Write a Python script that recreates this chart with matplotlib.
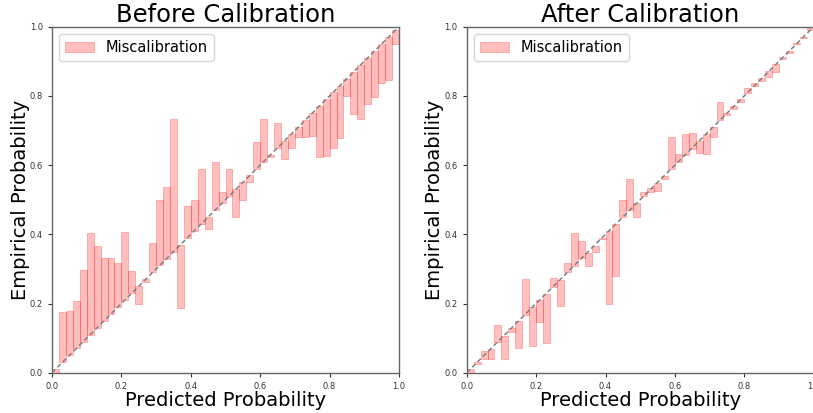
import numpy as np
import matplotlib
matplotlib.use("Agg")
import matplotlib.pyplot as plt

# ---- data -------------------------------------------------------------
bin_left = [round(i * 0.02, 2) for i in range(50)]   # left edges of the 50 bins
bin_width = 0.02

before_conf = [0.01, 0.03, 0.05, 0.07, 0.09, 0.11, 0.13, 0.15, 0.17, 0.19,
               0.21, 0.23, 0.25, 0.27, 0.29, 0.31, 0.33, 0.35, 0.37, 0.39,
               0.41, 0.43, 0.45, 0.47, 0.49, 0.51, 0.53, 0.55, 0.57, 0.59,
               0.61, 0.63, 0.65, 0.67, 0.69, 0.71, 0.73, 0.75, 0.77, 0.79,
               0.81, 0.83, 0.85, 0.87, 0.89, 0.91, 0.93, 0.95, 0.97, 0.99]
before_acc = [0.000, 0.175, 0.178, 0.207, 0.297, 0.403, 0.366, 0.331, 0.331, 0.318,
              0.406, 0.293, 0.199, 0.262, 0.374, 0.499, 0.538, 0.733, 0.186, 0.483,
              0.499, 0.589, 0.414, 0.610, 0.521, 0.589, 0.449, 0.498, 0.552, 0.667,
              0.732, 0.622, 0.722, 0.617, 0.649, 0.680, 0.680, 0.684, 0.624, 0.627,
              0.648, 0.679, 0.800, 0.748, 0.732, 0.778, 0.796, 0.836, 0.846, 0.949]

after_conf = [0.010, 0.032, 0.063, 0.068, 0.090, 0.105, 0.130, 0.149, 0.168, 0.191,
              0.210, 0.227, 0.247, 0.268, 0.290, 0.308, 0.331, 0.347, 0.366, 0.390,
              0.410, 0.430, 0.449, 0.469, 0.490, 0.510, 0.534, 0.549, 0.569, 0.589,
              0.608, 0.629, 0.647, 0.670, 0.690, 0.711, 0.730, 0.750, 0.770, 0.790,
              0.809, 0.829, 0.853, 0.871, 0.891, 0.911, 0.930, 0.949, 0.969, 0.990]
after_acc = [0.000, 0.025, 0.040, 0.039, 0.138, 0.039, 0.117, 0.070, 0.270, 0.078,
             0.147, 0.085, 0.273, 0.193, 0.318, 0.403, 0.381, 0.309, 0.348, 0.385,
             0.199, 0.280, 0.499, 0.559, 0.451, 0.521, 0.523, 0.525, 0.559, 0.682,
             0.631, 0.690, 0.692, 0.636, 0.631, 0.680, 0.783, 0.745, 0.762, 0.781,
             0.824, 0.836, 0.844, 0.856, 0.870, 0.906, 0.923, 0.954, 0.966, 0.998]

titles = ["Before Calibration", "After Calibration"]
tick_vals = [0.0, 0.2, 0.4, 0.6, 0.8, 1.0]

# ---- figure -----------------------------------------------------------
W, H = 813, 413
fig = plt.figure(figsize=(W / 100, H / 100), dpi=100)
bottom = (H - 372.7) / H
height = 346 / H
ax1 = fig.add_axes([52 / W, bottom, 347 / W, height])
ax2 = fig.add_axes([466.7 / W, bottom, 347 / W, height])

for ax, conf, acc, title in [(ax1, before_conf, before_acc, titles[0]),
                             (ax2, after_conf, after_acc, titles[1])]:
    conf_a = np.array(conf)
    acc_a = np.array(acc)
    ax.bar(bin_left, acc_a - conf_a, bottom=conf_a, width=bin_width, align="edge",
           color="red", alpha=0.25, edgecolor="red", linewidth=0.7,
           label="Miscalibration", zorder=2)
    ax.plot([0, 1], [0, 1], linestyle="--", color="gray", linewidth=1.1,
            dashes=(3, 2), zorder=3)
    ax.set_xlim(0, 1)
    ax.set_ylim(0, 1)
    ax.set_xticks(tick_vals)
    ax.set_yticks(tick_vals)
    ax.tick_params(labelsize=6, length=3, width=0.8, colors="0.2")
    for s in ax.spines.values():
        s.set_color("0.4")
        s.set_linewidth(1.0)
    ax.set_title(title, fontsize=17.5, pad=2.5)
    ax.set_xlabel("Predicted Probability", fontsize=14, labelpad=0.5)
    ax.set_ylabel("Empirical Probability", fontsize=14, labelpad=0)
    ax.legend(loc="upper left", fontsize=10.5)

fig.savefig("out.png", dpi=100)
